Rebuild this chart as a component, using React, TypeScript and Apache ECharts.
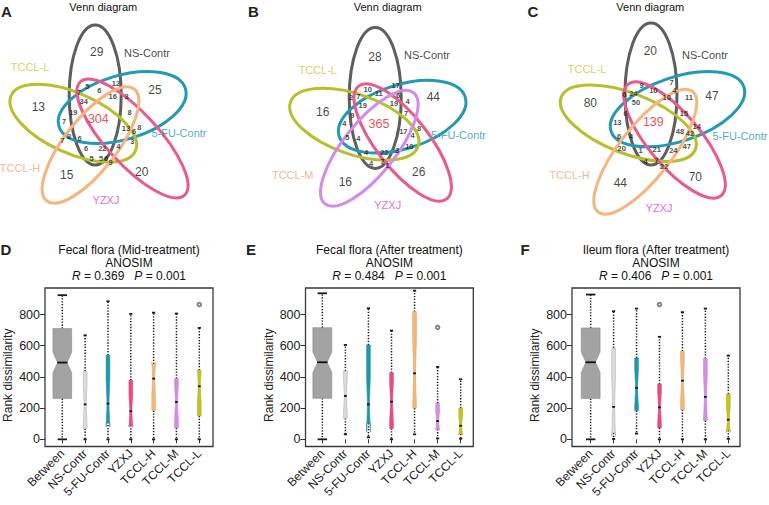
import React, { useEffect, useRef } from "react";
import * as echarts from "echarts";

const FONT = "'Liberation Sans', Arial, sans-serif";

// ---------------- Venn data ----------------
// unique counts, order: NS-Contr, 5-FU-Contr, TCCL-L, YZXJ, TCCL-H / TCCL-M
const VENN_A_UNIQUE = [29, 25, 13, 20, 15];
const VENN_B_UNIQUE = [28, 44, 16, 26, 16];
const VENN_C_UNIQUE = [20, 47, 80, 70, 44];
const VENN_CORE = [304, 365, 139];
const VENN_A_SHARED = [5, 12, 7, 6, 16, 3, 34, 8, 19, 7, 13, 6, 8, 2, 6, 7, 3, 6, 22, 4, 5, 5, 6, 9];
const VENN_B_SHARED = [10, 17, 11, 6, 2, 7, 19, 19, 4, 9, 7, 4, 8, 17, 4, 5, 4, 10, 4, 22, 3, 4, 7, 1];
const VENN_C_SHARED = [9, 7, 10, 4, 6, 24, 10, 11, 50, 6, 15, 13, 14, 48, 42, 6, 4, 20, 47, 1, 21, 24, 4, 7, 22];
const VENN_A_SETS = ["NS-Contr", "5-FU-Contr", "TCCL-L", "YZXJ", "TCCL-H"];
const VENN_B_SETS = ["NS-Contr", "5-FU-Contr", "TCCL-L", "YZXJ", "TCCL-M"];
const VENN_C_SETS = ["NS-Contr", "5-FU-Contr", "TCCL-L", "YZXJ", "TCCL-H"];

// ---------------- Box plot data ----------------
const CATEGORIES = ["Between", "NS-Contr", "5-FU-Contr", "YZXJ", "TCCL-H", "TCCL-M", "TCCL-L"];
// [lower whisker, Q1, median, Q3, upper whisker]
const D_STATS = [
  [0, 261, 492, 710, 924], [0, 68, 224, 436, 667], [0, 110, 229, 539, 885], [0, 90, 180, 378, 804],
  [0, 184, 389, 483, 812], [0, 73, 239, 389, 806], [0, 150, 340, 443, 714],
];
const D_NOTCH = [65, 129, 150, 101, 105, 111, 103];
const D_OUTLIERS = [[6, 864]];
const E_STATS = [
  [0, 263, 494, 716, 936], [32, 135, 278, 438, 605], [13, 103, 224, 605, 840], [0, 70, 241, 427, 697],
  [32, 200, 423, 818, 953], [6, 65, 117, 231, 464], [4, 34, 87, 200, 385],
];
const E_NOTCH = [65, 106, 176, 125, 216, 58, 58];
const E_OUTLIERS = [[5, 718]];
const F_STATS = [
  [0, 261, 494, 714, 928], [2, 41, 208, 586, 821], [37, 184, 330, 522, 838], [0, 73, 205, 355, 657],
  [0, 190, 376, 565, 815], [0, 120, 272, 518, 838], [3, 58, 126, 291, 537],
];
const F_NOTCH = [65, 191, 118, 99, 131, 139, 82];
const F_OUTLIERS = [[3, 864]];
const Y_TICKS = [0, 200, 400, 600, 800];
const BOX_TITLES = ["Fecal flora (Mid-treatment)", "Fecal flora (After treatment)", "Ileum flora (After treatment)"];
const ANOSIM_R = ["0.369", "0.484", "0.406"];
const ANOSIM_P = ["0.001", "0.001", "0.001"];

// ---------------- Layout (positions / styles) ----------------
const VENN_UNIQUE_POS = [
  [[96.7, 51.7], [155, 90], [38.3, 106.7], [141.7, 171.7], [66.7, 175]],
  [[375, 57.3], [433.3, 96.7], [322.7, 111.7], [418.7, 171.7], [345.3, 181.7]],
  [[650.3, 50.7], [712, 96], [590.3, 103.3], [695.3, 176.7], [620.3, 183.3]],
];
const VENN_CORE_POS = [[98.3, 119.3], [379, 124], [653.3, 121.7]];
const VENN_SHARED_POS = [
  [[87.3, 86], [116, 83.3], [79, 92.7], [99.3, 90.7], [112.7, 96.7], [126.7, 96.7], [83.7, 101.7], [129.7, 112.7],
   [73.3, 112.3], [64, 121.7], [126, 128.3], [134, 131.7], [139.3, 127.3], [69, 136], [79.7, 138.3], [62.3, 140.7],
   [132.3, 141.3], [86, 148.5], [102.3, 148.3], [118.3, 146.7], [91.7, 158], [101, 158.8], [106, 158], [110.5, 162.5]],
  [[367.7, 89], [395.7, 85.3], [378.7, 93.3], [398, 95.2], [351, 97.7], [358.3, 96.7], [362.7, 105], [394, 103.8],
   [407.7, 101.7], [352.3, 115.7], [406, 113.3], [344.3, 123.3], [419, 128.3], [403.3, 131], [412.7, 135],
   [347.3, 137.7], [358.3, 138.3], [409.3, 146], [366, 152.3], [384.3, 152.7], [397.3, 150], [371, 163.3],
   [382.3, 161.7], [387.7, 165.7]],
  [[641.7, 85], [671.7, 82.7], [653.3, 90.7], [674.3, 90.7], [624.3, 94], [633.3, 93.3], [666.7, 97.3], [689, 97.3],
   [636, 102.7], [625.7, 113.3], [684, 113.3], [617.3, 122.3], [696.7, 126.7], [680, 131], [690, 133.3], [619, 136],
   [631, 136], [621.7, 148.3], [686.7, 146], [640.7, 150], [656.7, 149.3], [673.3, 150], [645.7, 161.7],
   [656.7, 160.7], [664, 166.7]],
];
// ellipse: cx, cy, semi-major, semi-minor, rotation(deg, ccw)
const VENN_ELLIPSES = [
  [[95.2, 95, 70, 26, 90], [122.2, 107.5, 66, 32, 16.6], [73.3, 123.3, 68, 30, -24], [132.5, 138.5, 77, 26, -47.5], [90.5, 145, 71, 26, 52]],
  [[375.2, 98, 70.5, 26, 90], [402.2, 116.7, 66, 32, 17.2], [354.3, 124.2, 67.5, 30, -19], [402.7, 142.5, 71.5, 26, -52], [369.3, 148.3, 71, 26, 51.5]],
  [[651, 94, 71, 26, 90], [677.5, 109.2, 70, 32, 18.4], [628.3, 123.3, 72, 30, -21.2], [674.5, 140, 72.5, 26, -50], [645.3, 151.7, 76.5, 26, 52]],
];
const VENN_STROKES = [
  ["#5e5e5e", "#2399b3", "#b7bf2c", "#ea5a8c", "#f6b47e"],
  ["#5e5e5e", "#2399b3", "#b7bf2c", "#ea5a8c", "#d58ae9"],
  ["#5e5e5e", "#2399b3", "#b7bf2c", "#ea5a8c", "#f6b47e"],
];
const VENN_LABEL_COLORS = ["#111111", "#2297a8", "#c4ca35", "#e23fd0", "#f2a476"];
const VENN_LABEL_POS = [
  [[147, 52.7], [179, 133], [30, 66.7], [106, 200], [20, 168]],
  [[427, 55], [458.5, 135], [317.7, 70], [387.7, 205], [292.7, 175]],
  [[705, 55], [740, 136], [587, 69.3], [659, 208], [569.5, 175]],
];
const VENN_TITLE_X = [103.3, 387.7, 650.3];
const PANEL_LETTERS = [
  ["A", 6.5, 11], ["B", 253.5, 11], ["C", 533, 11], ["D", 6, 249], ["E", 251, 249], ["F", 525, 249],
];

const BOX_PANELS = [
  { frameLeft: 45, frameWidth: 168, dataLeft: 50.9, dataWidth: 159.8 },
  { frameLeft: 305.5, frameWidth: 167.8, dataLeft: 310.8, dataWidth: 161.4 },
  { frameLeft: 572, frameWidth: 168, dataLeft: 579.2, dataWidth: 160.6 },
];
const GRID_TOP = 288;
const GRID_HEIGHT = 158.5;
const Y_MIN = -46;
const Y_MAX = 970;
const BOX_WIDTH_FRAC = [0.82, 0.16, 0.16, 0.16, 0.16, 0.16, 0.16];
const BOX_FILLS = ["#a3a3a3", "#dcdcdc", "#1e98ae", "#ea4c7d", "#f2b87c", "#d98be8", "#c8c41e"];
const BOX_BORDERS = ["#8a8a8a", "#b0b0b0", "#1b8ca0", "#d4456f", "#dca46c", "#c47dd2", "#b0ac1a"];

const renderBox = (params: any, api: any) => {
  const ci = api.value(0);
  const lo = api.value(1), q1 = api.value(2), med = api.value(3), q3 = api.value(4), hi = api.value(5), nt = api.value(6);
  const band = api.size([1, 0])[0];
  const w = band * BOX_WIDTH_FRAC[ci];
  const x = api.coord([ci, 0])[0];
  const Y = (v: number) => api.coord([ci, v])[1];
  const xl = x - w / 2, xr = x + w / 2, xli = x - w / 4, xri = x + w / 4;
  const nlo = med - nt, nhi = med + nt;
  const points = [
    [xl, Y(q1)], [xl, Y(nlo)], [xli, Y(med)], [xl, Y(nhi)], [xl, Y(q3)],
    [xr, Y(q3)], [xr, Y(nhi)], [xri, Y(med)], [xr, Y(nlo)], [xr, Y(q1)],
  ];
  const capHalf = Math.max(w / 4, 1.6);
  const dotted = { stroke: "#1a1a1a", lineWidth: 1.5, lineDash: [1.3, 1.6] };
  const cap = { stroke: "#1a1a1a", lineWidth: 1.8 };
  return {
    type: "group",
    children: [
      { type: "line", shape: { x1: x, y1: Y(q3), x2: x, y2: Y(hi) }, style: dotted },
      { type: "line", shape: { x1: x, y1: Y(q1), x2: x, y2: Y(lo) }, style: dotted },
      { type: "line", shape: { x1: x - capHalf, y1: Y(hi), x2: x + capHalf, y2: Y(hi) }, style: cap },
      { type: "line", shape: { x1: x - capHalf, y1: Y(lo), x2: x + capHalf, y2: Y(lo) }, style: cap },
      { type: "polygon", shape: { points }, style: { fill: BOX_FILLS[ci], stroke: BOX_BORDERS[ci], lineWidth: 0.6 } },
      { type: "line", shape: { x1: xli - 0.5, y1: Y(med), x2: xri + 0.5, y2: Y(med) }, style: { stroke: "#111", lineWidth: 1.8 } },
    ],
  };
};

const renderEllipse = (params: any, api: any) => {
  const c = api.coord([api.value(0), api.value(1)]);
  const s = api.size([api.value(2), api.value(3)]);
  return {
    type: "ellipse",
    x: c[0],
    y: c[1],
    rotation: (api.value(4) * Math.PI) / 180,
    shape: { cx: 0, cy: 0, rx: Math.abs(s[0]), ry: Math.abs(s[1]) },
    style: { fill: "none", stroke: VENN_STROKES[api.value(5)][api.value(6)], lineWidth: 3 },
  };
};

function buildOption() {
  const grids: any[] = [{ left: 0, top: 0, width: 769, height: 505 }];
  const xAxes: any[] = [{ gridIndex: 0, type: "value", min: 0, max: 769, show: false }];
  const yAxes: any[] = [{ gridIndex: 0, type: "value", min: 0, max: 505, inverse: true, show: false }];
  const series: any[] = [];

  const ellData: any[] = [];
  VENN_ELLIPSES.forEach((set, p) => set.forEach((e, i) => ellData.push([...e, p, i])));
  series.push({ type: "custom", xAxisIndex: 0, yAxisIndex: 0, renderItem: renderEllipse, data: ellData, silent: true, clip: false, z: 1 });

  const uniques = [VENN_A_UNIQUE, VENN_B_UNIQUE, VENN_C_UNIQUE];
  const shareds = [VENN_A_SHARED, VENN_B_SHARED, VENN_C_SHARED];
  const setNames = [VENN_A_SETS, VENN_B_SETS, VENN_C_SETS];
  const countData: any[] = [];
  for (let p = 0; p < 3; p++) {
    uniques[p].forEach((v, i) =>
      countData.push({ value: VENN_UNIQUE_POS[p][i], label: { formatter: String(v), fontSize: 12, color: "#111" } })
    );
    countData.push({ value: VENN_CORE_POS[p], label: { formatter: String(VENN_CORE[p]), fontSize: 12.5, color: "#e0242c" } });
    shareds[p].forEach((v, i) =>
      countData.push({ value: VENN_SHARED_POS[p][i], label: { formatter: String(v), fontSize: 7.5, fontWeight: "bold", color: "#1a1a1a" } })
    );
  }
  series.push({
    type: "scatter", xAxisIndex: 0, yAxisIndex: 0, symbolSize: 0, silent: true, z: 3,
    label: { show: true, position: "inside", fontFamily: FONT },
    data: countData,
  });
  const nameData: any[] = [];
  for (let p = 0; p < 3; p++) {
    setNames[p].forEach((n, i) =>
      nameData.push({ value: VENN_LABEL_POS[p][i], label: { formatter: n, color: VENN_LABEL_COLORS[i] } })
    );
  }
  series.push({
    type: "scatter", xAxisIndex: 0, yAxisIndex: 0, symbolSize: 0, silent: true, z: 3,
    label: { show: true, position: "inside", fontSize: 11, fontFamily: FONT },
    data: nameData,
  });

  const stats = [D_STATS, E_STATS, F_STATS];
  const notches = [D_NOTCH, E_NOTCH, F_NOTCH];
  const outliers = [D_OUTLIERS, E_OUTLIERS, F_OUTLIERS];
  BOX_PANELS.forEach((bp, p) => {
    const fi = grids.length;
    grids.push({ left: bp.frameLeft, top: GRID_TOP, width: bp.frameWidth, height: GRID_HEIGHT, show: true, borderColor: "#3a3a3a", borderWidth: 1.3, backgroundColor: "transparent" });
    xAxes.push({ gridIndex: fi, type: "value", min: 0, max: 1, show: false });
    yAxes.push({
      gridIndex: fi, type: "value", min: Y_MIN, max: Y_MAX,
      splitLine: { show: false }, axisLine: { show: false },
      axisTick: { show: true, length: 5, lineStyle: { color: "#333" }, customValues: Y_TICKS },
      axisLabel: { customValues: Y_TICKS, fontSize: 12.5, color: "#222", margin: 5, fontFamily: FONT },
      name: "Rank dissimilarity", nameLocation: "middle", nameGap: 31,
      nameTextStyle: { fontSize: 12, color: "#222", fontFamily: FONT, padding: [0, 16, 0, 0] },
    });
    const di = grids.length;
    grids.push({ left: bp.dataLeft, top: GRID_TOP, width: bp.dataWidth, height: GRID_HEIGHT });
    xAxes.push({
      gridIndex: di, type: "category", data: CATEGORIES, boundaryGap: true,
      axisLine: { show: false },
      axisTick: { show: true, alignWithLabel: true, length: 4, lineStyle: { color: "#333" } },
      axisLabel: { rotate: 45, interval: 0, fontSize: 12, color: "#222", margin: 5, fontFamily: FONT },
    });
    yAxes.push({ gridIndex: di, type: "value", min: Y_MIN, max: Y_MAX, show: false });
    series.push({
      type: "custom", xAxisIndex: di, yAxisIndex: di, renderItem: renderBox, silent: true,
      encode: { x: 0, y: [1, 2, 3, 4, 5] },
      data: CATEGORIES.map((c, i) => [i, ...stats[p][i], notches[p][i]]),
    });
    series.push({
      type: "scatter", xAxisIndex: di, yAxisIndex: di, symbol: "emptyCircle", symbolSize: 3.5, silent: true,
      itemStyle: { color: "#666", borderWidth: 1 },
      data: outliers[p],
    });
  });

  const graphics: any[] = [];
  VENN_TITLE_X.forEach((x) =>
    graphics.push({ type: "text", x, y: 6.5, style: { text: "Venn diagram", fontSize: 11, fontFamily: FONT, fill: "#111", align: "center", verticalAlign: "middle" } })
  );
  BOX_PANELS.forEach((bp, p) => {
    const cx = bp.frameLeft + bp.frameWidth / 2;
    graphics.push({ type: "text", x: cx, y: 250, style: { text: BOX_TITLES[p], fontSize: 12, fontFamily: FONT, fill: "#111", align: "center", verticalAlign: "middle" } });
    graphics.push({ type: "text", x: cx, y: 263, style: { text: "ANOSIM", fontSize: 12, fontFamily: FONT, fill: "#111", align: "center", verticalAlign: "middle" } });
    graphics.push({
      type: "text", x: cx, y: 275.5,
      style: {
        text: `{i|R} = ${ANOSIM_R[p]}   {i|P} = ${ANOSIM_P[p]}`, fontSize: 12, fontFamily: FONT, fill: "#111",
        align: "center", verticalAlign: "middle",
        rich: { i: { fontStyle: "italic", fontSize: 12, fontFamily: FONT, fill: "#111" } },
      },
    });
  });
  PANEL_LETTERS.forEach(([t, x, y]) =>
    graphics.push({ type: "text", x, y, style: { text: t, fontSize: 15, fontWeight: "bold", fontFamily: FONT, fill: "#222", align: "center", verticalAlign: "middle" } })
  );

  return {
    animation: false,
    backgroundColor: "#ffffff",
    textStyle: { fontFamily: FONT },
    grid: grids,
    xAxis: xAxes,
    yAxis: yAxes,
    series,
    graphic: graphics,
  };
}

export default function App() {
  const ref = useRef<HTMLDivElement>(null);
  useEffect(() => {
    if (!ref.current) return;
    const chart = echarts.init(ref.current, undefined, { renderer: "svg" });
    chart.setOption(buildOption() as any);
    return () => chart.dispose();
  }, []);
  return <div ref={ref} style={{ position: "fixed", left: 0, top: 0, width: 769, height: 505 }} />;
}
